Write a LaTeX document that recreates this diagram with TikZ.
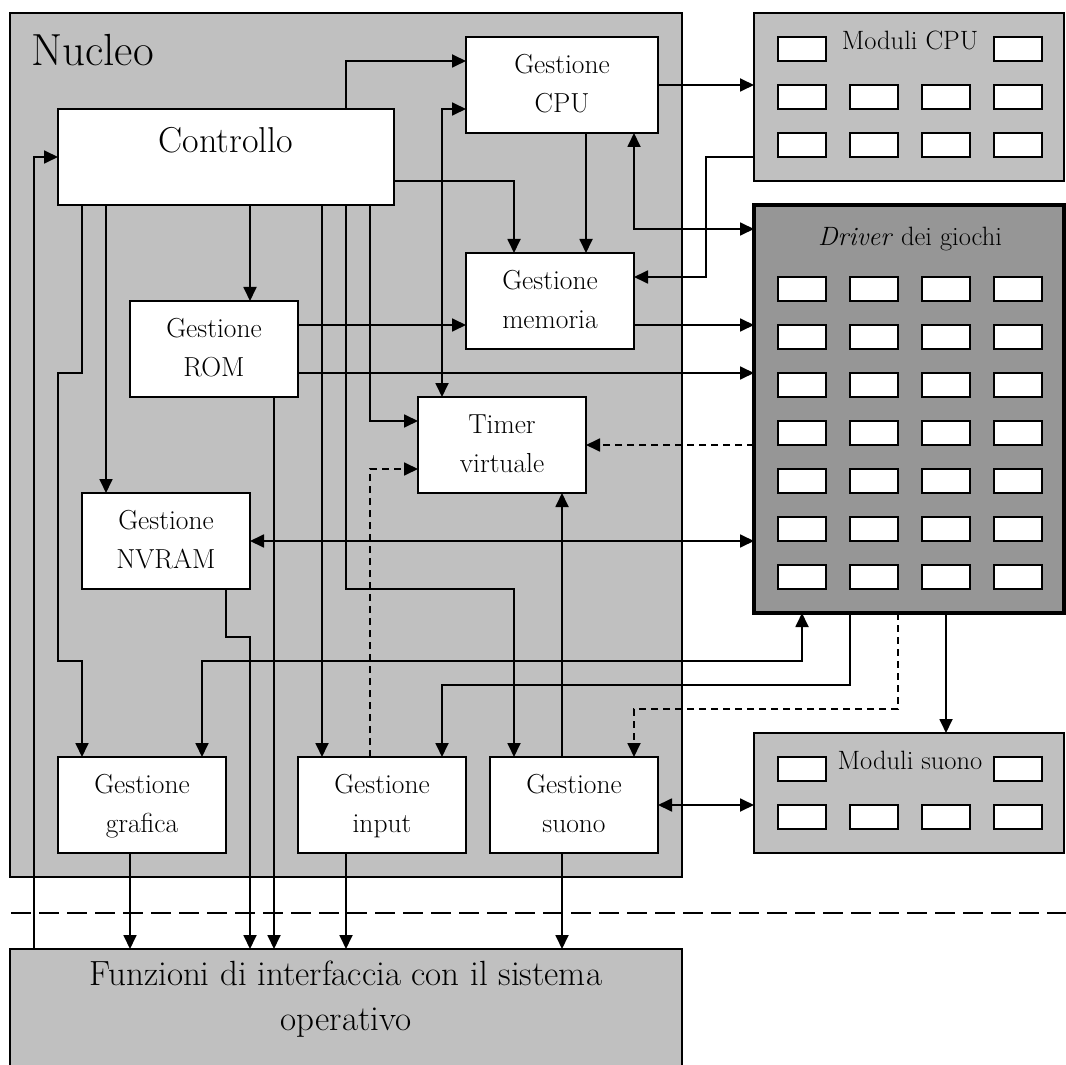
\documentclass[tikz,border=0pt]{standalone}
\usepackage{fontspec}
\usetikzlibrary{arrows.meta}
\definecolor{nuc}{RGB}{192,192,192}
\definecolor{drvc}{RGB}{150,150,150}
\newcommand\gfont{\fontsize{27.5}{39}\selectfont}
\newcommand\cfont{\fontsize{36}{42}\selectfont}
\newcommand\nfont{\fontsize{45}{52}\selectfont}
\newcommand\mfont{\fontsize{26.5}{31}\selectfont}
\newcommand\ffont{\fontsize{35}{45}\selectfont}
\begin{document}
\begin{tikzpicture}[x=24pt,y=-24pt,
  >={Triangle[length=14pt,width=13pt]},
  every node/.style={inner sep=0pt,outer sep=0pt},
  gbox/.style={draw,fill=white,line width=1.8pt,minimum height=96pt,font=\gfont,align=center},
  conn/.style={line width=1.8pt},
  dconn/.style={line width=1.8pt,dash pattern=on 7pt off 5pt},
  grey/.style={draw,fill=nuc,line width=1.8pt},
  cell/.style={draw,fill=white,line width=1.8pt}
]
\useasboundingbox (-0.4167,-0.5417) rectangle (44,43.833);
% containers
\node[grey,minimum width=672pt,minimum height=864pt] (nucleo) at (14,18) {};
\node[font=\nfont,anchor=base west] (nuclbl) at (0.88,2.17) {Nucleo};
\node[grey,minimum width=309.6pt,minimum height=168pt] (modcpu) at (37.45,3.5) {};
\node[draw,fill=drvc,line width=4pt,minimum width=309.6pt,minimum height=408pt] (drv) at (37.45,16.5) {};
\node[grey,minimum width=309.6pt,minimum height=120pt] (modsnd) at (37.45,32.5) {};
\node[grey,minimum width=672pt,minimum height=132pt] (funz) at (14,41.75) {};
% module cells
\foreach \x in {32,41} \draw[cell] (\x,1) rectangle ++(2,1);
\foreach \x in {32,35,38,41} \foreach \y in {3,5} \draw[cell] (\x,\y) rectangle ++(2,1);
\foreach \x in {32,35,38,41} \foreach \y in {11,13,...,23} \draw[cell] (\x,\y) rectangle ++(2,1);
\foreach \x in {32,41} \draw[cell] (\x,31) rectangle ++(2,1);
\foreach \x in {32,35,38,41} \draw[cell] (\x,33) rectangle ++(2,1);
\node[font=\mfont,anchor=base] (modcpulbl) at (37.5,1.54) {Moduli CPU};
\node[font=\mfont,anchor=base] (drvlbl) at (37.5,9.67) {\textit{Driver} dei giochi};
\node[font=\mfont,anchor=base] (modsndlbl) at (37.5,31.5) {Moduli suono};
\node[font=\ffont,align=center,anchor=north] (funzlbl) at (14,39.5) {Funzioni di interfaccia con il sistema\\operativo};
% boxes
\node[gbox,minimum width=336pt] (ctrl) at (9,6) {};
\node[font=\cfont,anchor=base] (ctrllbl) at (9,5.83) {Controllo};
\node[gbox,minimum width=192pt] (cpu) at (23,3) {Gestione\strut\\CPU\strut};
\node[gbox,minimum width=168pt] (mem) at (22.5,12) {Gestione\strut\\memoria\strut};
\node[gbox,minimum width=168pt] (rom) at (8.5,14) {Gestione\strut\\ROM\strut};
\node[gbox,minimum width=168pt] (timer) at (20.5,18) {Timer\strut\\virtuale\strut};
\node[gbox,minimum width=168pt] (nvram) at (6.5,22) {Gestione\strut\\NVRAM\strut};
\node[gbox,minimum width=168pt] (graf) at (5.5,33) {Gestione\strut\\grafica\strut};
\node[gbox,minimum width=168pt] (input) at (15.5,33) {Gestione\strut\\input\strut};
\node[gbox,minimum width=168pt] (suono) at (23.5,33) {Gestione\strut\\suono\strut};
% separator
\draw[line width=1.8pt,dash pattern=on 20pt off 8pt] (0.05,37.5) -- (44,37.5);
% connectors
\draw[conn,->] (ctrl.north -| 14,0) |- (cpu.west |- 0,2);
\draw[conn,<->] (cpu.west |- 0,4) -| (timer.north -| 18,0);
\draw[conn,->] (ctrl.east |- 0,7) -| (mem.north -| 21,0);
\draw[conn,->] (cpu.south -| 24,0) -- (mem.north -| 24,0);
\draw[conn,<->] (cpu.south -| 26,0) |- (drv.west |- 0,9);
\draw[conn,->] (cpu.east |- 0,3) -- (modcpu.west |- 0,3);
\draw[conn,->] (modcpu.west |- 0,6) -| (29,11) -- (mem.east |- 0,11);
\draw[conn,->] (ctrl.south -| 10,0) -- (rom.north -| 10,0);
\draw[conn,->] (rom.east |- 0,13) -- (mem.west |- 0,13);
\draw[conn,->] (mem.east |- 0,13) -- (drv.west |- 0,13);
\draw[conn,->] (rom.east |- 0,15) -- (drv.west |- 0,15);
\draw[conn,->] (ctrl.south -| 15,0) |- (timer.west |- 0,17);
\draw[dconn,->] (input.north -| 15,0) |- (timer.west |- 0,19);
\draw[dconn,->] (drv.west |- 0,18) -- (timer.east |- 0,18);
\draw[conn,<->] (nvram.east |- 0,22) -- (drv.west |- 0,22);
\draw[conn,->] (ctrl.south -| 4,0) -- (nvram.north -| 4,0);
\draw[conn,->] (ctrl.south -| 3,0) -- (3,15) -- (2,15) -- (2,27) -- (3,27) -- (graf.north -| 3,0);
\draw[conn,->] (funz.north -| 1,0) |- (ctrl.west |- 0,6);
\draw[conn,->] (nvram.south -| 9,0) -- (9,26) -- (10,26) -- (funz.north -| 10,0);
\draw[conn,->] (rom.south -| 11,0) -- (funz.north -| 11,0);
\draw[conn,->] (graf.south -| 5,0) -- (funz.north -| 5,0);
\draw[conn,->] (input.south -| 14,0) -- (funz.north -| 14,0);
\draw[conn,->] (suono.south -| 23,0) -- (funz.north -| 23,0);
\draw[conn,->] (ctrl.south -| 13,0) -- (input.north -| 13,0);
\draw[conn,->] (ctrl.south -| 14,0) -- (14,24) -| (suono.north -| 21,0);
\draw[conn,->] (suono.north -| 23,0) -- (timer.south -| 23,0);
\draw[conn,<->] (graf.north -| 8,0) -- (8,27) -| (drv.south -| 33,0);
\draw[conn,->] (drv.south -| 35,0) -- (35,28) -| (input.north -| 18,0);
\draw[dconn,->] (drv.south -| 37,0) -- (37,29) -| (suono.north -| 26,0);
\draw[conn,->] (drv.south -| 39,0) -- (modsnd.north -| 39,0);
\draw[conn,<->] (suono.east |- 0,33) -- (modsnd.west |- 0,33);
\end{tikzpicture}
\end{document}
